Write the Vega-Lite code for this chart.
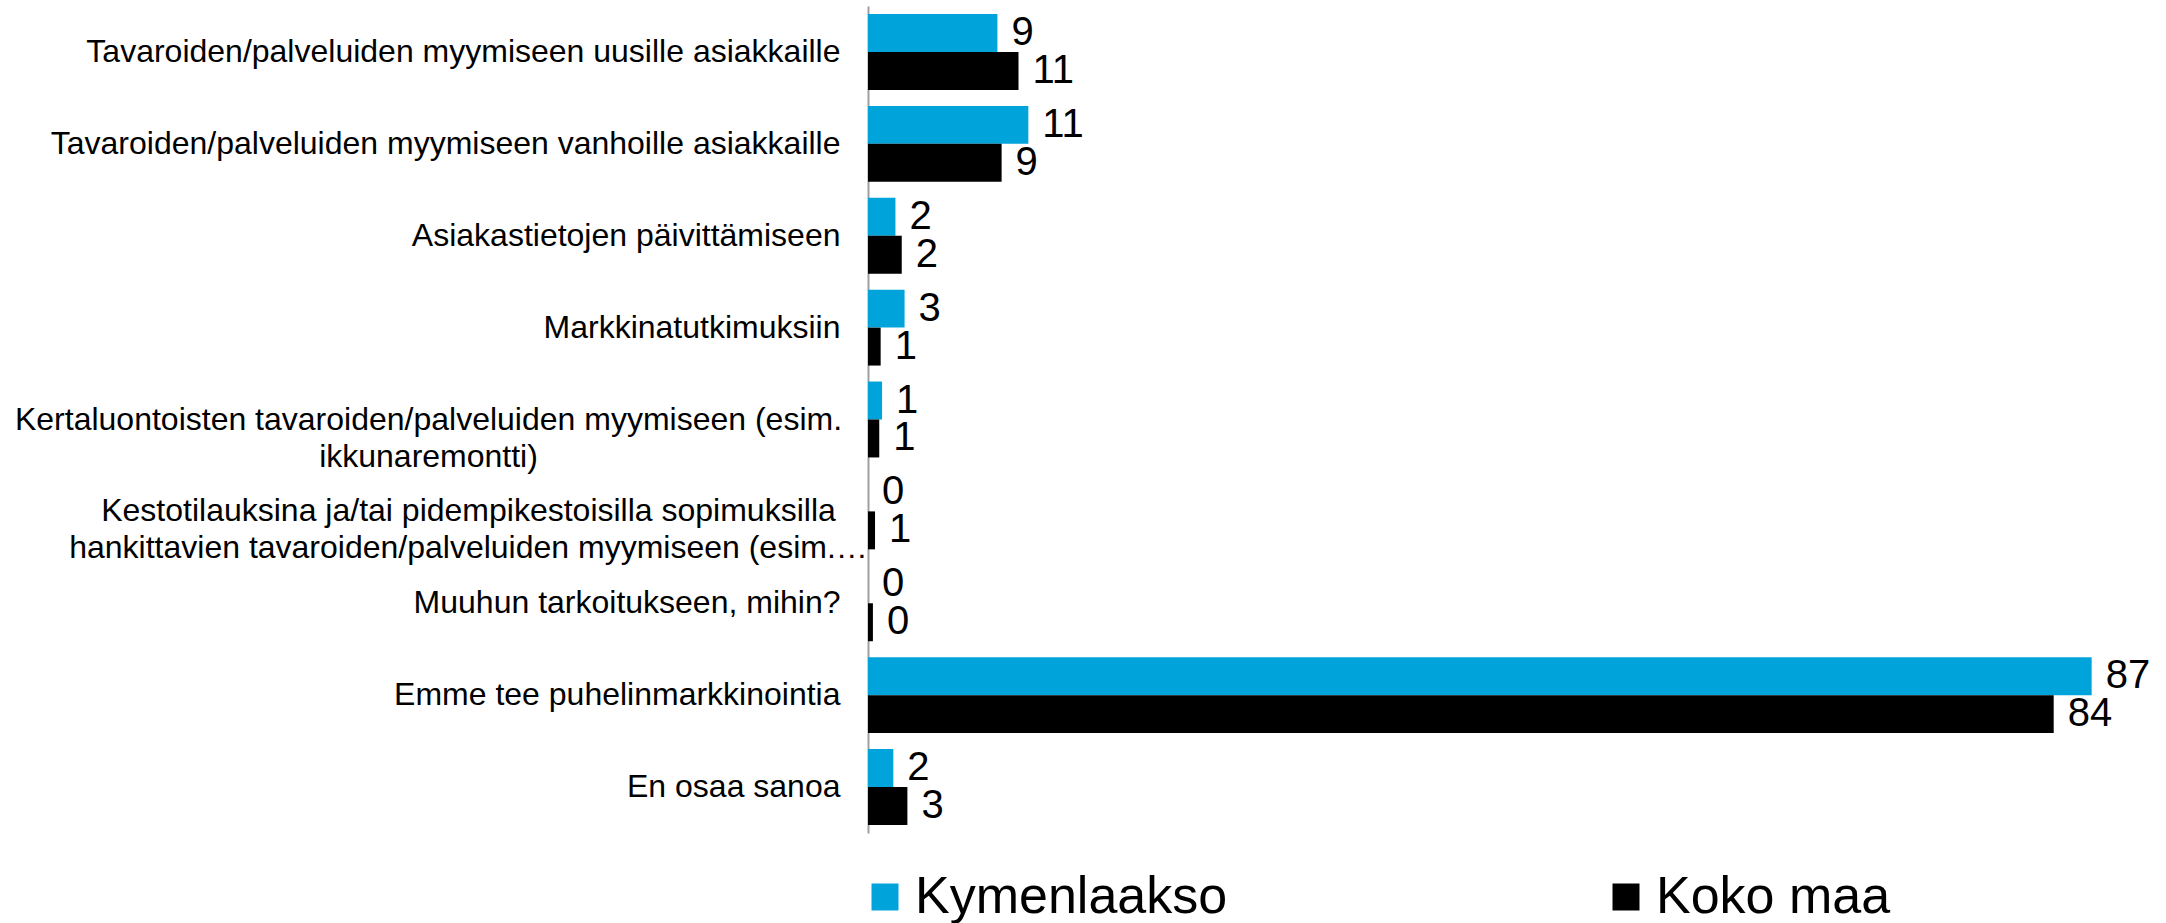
{
  "$schema": "https://vega.github.io/schema/vega-lite/v6.json",
  "autosize": {"type": "none"},
  "padding": {"left": 868, "top": 6, "right": 4, "bottom": 90},
  "width": 1294,
  "height": 827,
  "config": {
    "view": {"stroke": null},
    "font": "Liberation Sans",
    "text": {"font": "Liberation Sans"}
  },
  "data": {
    "values": [
      {"cat": "Tavaroiden/palveluiden myymiseen uusille asiakkaille", "series": "Kymenlaakso", "value": 9.2, "label": "9"},
      {"cat": "Tavaroiden/palveluiden myymiseen uusille asiakkaille", "series": "Koko maa", "value": 10.7, "label": "11"},
      {"cat": "Tavaroiden/palveluiden myymiseen vanhoille asiakkaille", "series": "Kymenlaakso", "value": 11.4, "label": "11"},
      {"cat": "Tavaroiden/palveluiden myymiseen vanhoille asiakkaille", "series": "Koko maa", "value": 9.5, "label": "9"},
      {"cat": "Asiakastietojen päivittämiseen", "series": "Kymenlaakso", "value": 1.95, "label": "2"},
      {"cat": "Asiakastietojen päivittämiseen", "series": "Koko maa", "value": 2.4, "label": "2"},
      {"cat": "Markkinatutkimuksiin", "series": "Kymenlaakso", "value": 2.6, "label": "3"},
      {"cat": "Markkinatutkimuksiin", "series": "Koko maa", "value": 0.9, "label": "1"},
      {"cat": "Kertaluontoisten tavaroiden/palveluiden myymiseen (esim.|ikkunaremontti)", "series": "Kymenlaakso", "value": 1.0, "label": "1"},
      {"cat": "Kertaluontoisten tavaroiden/palveluiden myymiseen (esim.|ikkunaremontti)", "series": "Koko maa", "value": 0.8, "label": "1"},
      {"cat": "Kestotilauksina ja/tai pidempikestoisilla sopimuksilla|hankittavien tavaroiden/palveluiden myymiseen (esim.…", "series": "Kymenlaakso", "value": 0, "label": "0"},
      {"cat": "Kestotilauksina ja/tai pidempikestoisilla sopimuksilla|hankittavien tavaroiden/palveluiden myymiseen (esim.…", "series": "Koko maa", "value": 0.5, "label": "1"},
      {"cat": "Muuhun tarkoitukseen, mihin?", "series": "Kymenlaakso", "value": 0, "label": "0"},
      {"cat": "Muuhun tarkoitukseen, mihin?", "series": "Koko maa", "value": 0.35, "label": "0"},
      {"cat": "Emme tee puhelinmarkkinointia", "series": "Kymenlaakso", "value": 87.0, "label": "87"},
      {"cat": "Emme tee puhelinmarkkinointia", "series": "Koko maa", "value": 84.3, "label": "84"},
      {"cat": "En osaa sanoa", "series": "Kymenlaakso", "value": 1.8, "label": "2"},
      {"cat": "En osaa sanoa", "series": "Koko maa", "value": 2.8, "label": "3"}
    ]
  },
  "encoding": {
    "y": {
      "field": "cat",
      "type": "nominal",
      "sort": null,
      "scale": {"paddingInner": 0.174, "paddingOuter": 0.087},
      "axis": {
        "title": null,
        "ticks": false,
        "tickSize": 0,
        "domain": true,
        "domainColor": "#a0a0a0",
        "domainWidth": 2,
        "labelFont": "Liberation Sans",
        "labelFontSize": 32,
        "labelColor": "#000000",
        "labelLimit": 1000,
        "labelLineHeight": 37,
        "labelExpr": "split(datum.label, '|')",
        "labelAlign": {
          "condition": {"test": "indexof(datum.value, '|') >= 0", "value": "center"},
          "value": "right"
        },
        "labelPadding": {
          "condition": [
            {"test": "indexof(datum.value, 'Kertaluontoisten') >= 0", "value": 440},
            {"test": "indexof(datum.value, 'Kestotilauksina') >= 0", "value": 400}
          ],
          "value": 28
        }
      }
    },
    "yOffset": {
      "field": "series",
      "type": "nominal",
      "sort": ["Kymenlaakso", "Koko maa"],
      "scale": {"paddingInner": 0, "paddingOuter": 0}
    },
    "x": {
      "field": "value",
      "type": "quantitative",
      "scale": {"domain": [0, 92], "nice": false, "zero": true},
      "axis": null
    }
  },
  "layer": [
    {
      "mark": {"type": "bar"},
      "encoding": {
        "color": {
          "field": "series",
          "type": "nominal",
          "scale": {"domain": ["Kymenlaakso", "Koko maa"], "range": ["#00a3da", "#000000"]},
          "legend": {
            "title": null,
            "orient": "none",
            "legendX": -9,
            "legendY": 865,
            "direction": "horizontal",
            "columns": 2,
            "padding": 0,
            "symbolType": "square",
            "symbolSize": 729,
            "symbolStrokeWidth": 0,
            "labelFont": "Liberation Sans",
            "labelFontSize": 52,
            "labelColor": "#000000",
            "labelOffset": 4,
            "labelLimit": 600,
            "columnPadding": 372
          }
        }
      }
    },
    {
      "mark": {"type": "text", "align": "left", "baseline": "middle", "dx": 14, "fontSize": 40, "font": "Liberation Sans", "color": "#000000"},
      "encoding": {
        "text": {"field": "label"}
      }
    }
  ]
}
